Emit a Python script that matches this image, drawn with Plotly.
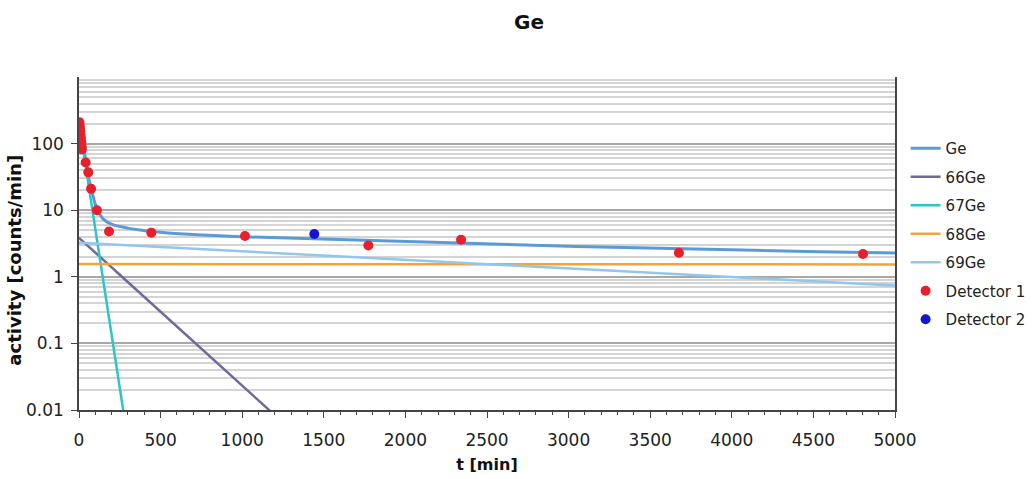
import numpy as np
import plotly.graph_objects as go

# Isotope components: activity at t=0 [counts/min] and half-life [min]
isotopes = ["66Ge", "67Ge", "68Ge", "69Ge"]
initial_activity = [3.85, 205.0, 1.55, 3.25]
half_life_min = [135.6, 18.9, 390000.0, 2343.0]
line_colors = ["#6e6a9c", "#2cc6c6", "#f2a43c", "#93c6ea"]

# Measured activities
det1_t = [2, 4, 6, 8, 10, 12, 14, 16, 18, 41, 57, 74, 110, 184, 443, 1017, 1773, 2341, 3676, 4804]
det1_a = [210, 190, 170, 150, 135, 120, 105, 92, 82, 52, 37, 21, 10, 4.8, 4.6, 4.1, 2.95, 3.6, 2.3, 2.2]
det2_t = [1442]
det2_a = [4.4]

x_tick_vals = [0, 500, 1000, 1500, 2000, 2500, 3000, 3500, 4000, 4500, 5000]
y_tick_vals = [0.01, 0.1, 1, 10, 100]
y_tick_text = ["0.01", "0.1", "1", "10", "100"]

t = np.linspace(0, 5000, 2501)
components = [a0 * np.exp(-np.log(2) * t / th) for a0, th in zip(initial_activity, half_life_min)]
total = np.sum(components, axis=0)

fig = go.Figure()
fig.add_trace(go.Scatter(x=t, y=total, mode="lines", name="Ge", legendgroup="Ge",
                         line=dict(color="#5a9bd6", width=3)))
for name, comp, col in zip(isotopes, components, line_colors):
    fig.add_trace(go.Scatter(x=t, y=comp, mode="lines", name=name, legendgroup=name,
                             line=dict(color=col, width=2.5)))
fig.add_trace(go.Scatter(x=det1_t, y=det1_a, mode="markers", name="Detector 1",
                         legendgroup="d1", marker=dict(color="#e8202c", size=10)))
fig.add_trace(go.Scatter(x=det2_t, y=det2_a, mode="markers", name="Detector 2",
                         legendgroup="d2", marker=dict(color="#1414d2", size=10)))

font_family = "DejaVu Sans, Verdana, sans-serif"
fig.update_layout(
    width=1034, height=479,
    margin=dict(l=79, r=139, t=77, b=69, autoexpand=False),
    paper_bgcolor="white", plot_bgcolor="white",
    font=dict(family=font_family, size=15, color="#222"),
    title=dict(text="<b>Ge</b>", x=0.5116, xanchor="center", y=0.955, yanchor="middle",
               font=dict(size=20, color="#111")),
    showlegend=True,
    legend=dict(x=1.013, y=0.835, xanchor="left", yanchor="top",
                font=dict(size=15, color="#222"), tracegroupgap=6,
                itemwidth=30, bgcolor="rgba(0,0,0,0)"),
    annotations=[dict(text="<b>activity [counts/min]</b>", xref="paper", yref="paper",
                      x=-0.079, y=0.45, xanchor="center", yanchor="middle",
                      textangle=-90, showarrow=False,
                      font=dict(size=18, color="#111"))],
)
fig.update_xaxes(
    range=[0, 5000], tickvals=x_tick_vals, showgrid=False, zeroline=False,
    showline=True, linecolor="#444", linewidth=1.5, mirror=False,
    ticks="outside", ticklen=6, tickcolor="#444", ticklabelstandoff=8,
    minor=dict(dtick=100, ticks="outside", ticklen=3, tickcolor="#444", showgrid=False),
    title=dict(text="<b>t [min]</b>", font=dict(size=16, color="#111"), standoff=10),
    tickfont=dict(size=17),
)
fig.update_yaxes(
    type="log", range=[-2, 3], tickvals=y_tick_vals, ticktext=y_tick_text,
    showgrid=True, gridcolor="#a8a8a8", gridwidth=1.5, zeroline=False,
    showline=True, linecolor="#444", linewidth=1.5, mirror=True,
    ticks="outside", ticklen=6, tickcolor="#444", ticklabelstandoff=4,
    minor=dict(dtick="D1", showgrid=True, gridcolor="#d4d4d4", gridwidth=1.5, ticks=""),
    tickfont=dict(size=17),
)

fig.write_html("out.html")
